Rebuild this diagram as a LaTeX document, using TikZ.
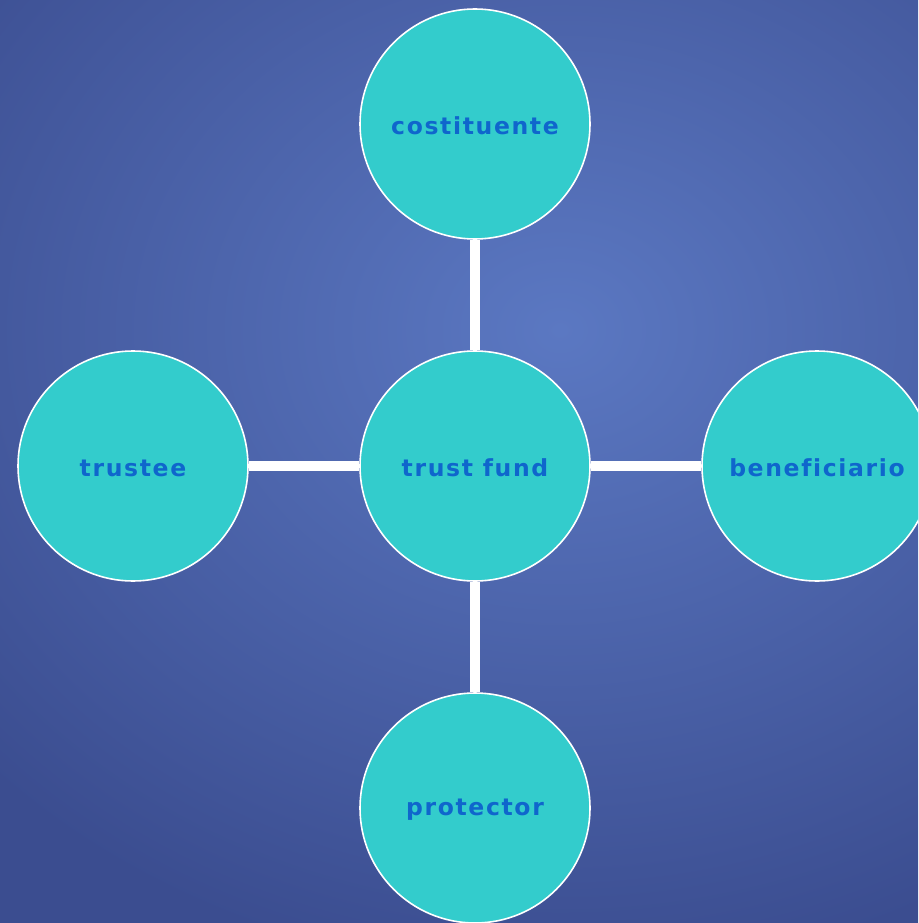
\documentclass[tikz,border=0pt]{standalone}
\usepackage{fontspec}
\newfontfamily\lblfont[LetterSpace=7,Ligatures=NoCommon]{DejaVu Sans Bold}
\definecolor{bgin}{HTML}{5B78C2}
\definecolor{bgout}{HTML}{3B4D90}
\definecolor{circfill}{HTML}{33CCCC}
\definecolor{txtblue}{HTML}{0F66CC}
\newcommand{\lowtxt}[1]{\raisebox{-2pt}[\height][\depth]{#1}}
\begin{document}
\begin{tikzpicture}[x=1pt,y=-1pt,
  bubble/.style={circle, minimum size=230pt, inner sep=0pt, fill=circfill, draw=white, line width=1.6pt,
    font=\lblfont\fontsize{23.5}{30}\selectfont, text=txtblue},
  link/.style={draw=white, line width=10pt}]
\useasboundingbox (0,0) rectangle (918,923);
\begin{scope}
\clip (0,0) rectangle (918,923);
\shade[inner color=bgin, outer color=bgout] (-220,-320) rectangle (1340,980);
\node[bubble] (fund) at (475,466) {\lowtxt{trust fund}};
\node[bubble] (cost) at (475,124) {\lowtxt{costituente}};
\node[bubble] (trustee) at (133,466) {\lowtxt{trustee}};
\node[bubble] (benef) at (817,466) {\lowtxt{beneficiario}};
\node[bubble] (prot) at (475,808) {\lowtxt{protector}};
\path[link] (cost) -- (fund);
\path[link] (fund) -- (prot);
\path[link] (trustee) -- (fund);
\path[link] (fund) -- (benef);
\end{scope}
\end{tikzpicture}
\end{document}
